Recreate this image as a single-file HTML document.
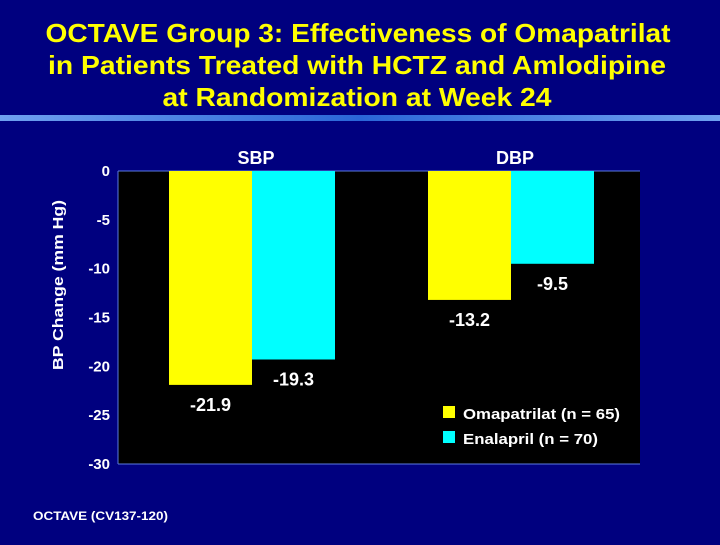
<!DOCTYPE html>
<html><head><meta charset="utf-8"><style>
body{margin:0;width:720px;height:540px;background:#00007f;overflow:hidden;font-family:"Liberation Sans",Arial,sans-serif}
</style></head><body>
<svg width="720" height="540" xmlns="http://www.w3.org/2000/svg">
<defs><linearGradient id="g" x1="0" x2="1"><stop offset="0" stop-color="#6fa0f0"/><stop offset="0.5" stop-color="#2a66d8"/><stop offset="1" stop-color="#6fa0f0"/></linearGradient></defs>
<rect width="720" height="540" fill="#00007f"/>
<g fill="#ffff00" font-weight="bold" font-size="26" text-anchor="middle">
<text x="358" y="42" textLength="625" lengthAdjust="spacingAndGlyphs">OCTAVE Group 3: Effectiveness of Omapatrilat</text>
<text x="357" y="74" textLength="618" lengthAdjust="spacingAndGlyphs">in Patients Treated with HCTZ and Amlodipine</text>
<text x="357" y="106" textLength="389" lengthAdjust="spacingAndGlyphs">at Randomization at Week 24</text>
</g>
<rect x="0" y="115" width="720" height="6" fill="url(#g)"/>
<rect x="118" y="171" width="522" height="293" fill="#000"/>
<line x1="118" y1="171" x2="640" y2="171" stroke="#5a7ae0" stroke-width="1"/>
<line x1="118" y1="464" x2="640" y2="464" stroke="#5a7ae0" stroke-width="1"/>
<line x1="118" y1="171" x2="118" y2="464" stroke="#5a7ae0" stroke-width="1"/>
<text transform="translate(63,285) rotate(-90)" text-anchor="middle" fill="#fff" font-weight="bold" font-size="15" textLength="170" lengthAdjust="spacingAndGlyphs">BP Change (mm Hg)</text>
<g id="ticks" fill="#fff" font-weight="bold" font-size="15" text-anchor="end"></g>
<g id="bars"></g>
<g fill="#fff" font-weight="bold" font-size="15">
<rect x="443" y="406" width="12" height="12" fill="#ffff00"/>
<text x="463" y="419" textLength="157" lengthAdjust="spacingAndGlyphs">Omapatrilat (n = 65)</text>
<rect x="443" y="431" width="12" height="12" fill="#00ffff"/>
<text x="463" y="444" textLength="135" lengthAdjust="spacingAndGlyphs">Enalapril (n = 70)</text>
</g>
<text x="33" y="520" fill="#fff" font-weight="bold" font-size="12" textLength="135" lengthAdjust="spacingAndGlyphs">OCTAVE (CV137-120)</text>
</svg>
<script>
const categories=["SBP","DBP"];
const omapatrilat=[-21.9,-13.2];
const enalapril=[-19.3,-9.5];
const ticks=[0,-5,-10,-15,-20,-25,-30];
const NS="http://www.w3.org/2000/svg";
const y=v=>171+(-v)/30*293;
const cx=i=>252+i*259;
const bw=83;
function mk(t,a,p){const e=document.createElementNS(NS,t);for(const k in a)e.setAttribute(k,a[k]);p.appendChild(e);return e;}
const tg=document.getElementById('ticks');
ticks.forEach(t=>{const e=mk('text',{x:110,y:y(t)+5},tg);e.textContent=t;

});
const bg=document.getElementById('bars');
categories.forEach((c,i)=>{
 const h=mk('text',{x:cx(i)+4,y:164,fill:'#fff','font-weight':'bold','font-size':'18','text-anchor':'middle'},bg);h.textContent=c;
 
 
 const a=mk('rect',{x:cx(i)-bw,y:171,width:bw,height:y(omapatrilat[i])-171,fill:'#ffff00'},bg);
 
 
 const b=mk('rect',{x:cx(i),y:171,width:bw,height:y(enalapril[i])-171,fill:'#00ffff'},bg);
 
 
 const la=mk('text',{x:cx(i)-bw/2,y:y(omapatrilat[i])+26,fill:'#fff','font-weight':'bold','font-size':'18','text-anchor':'middle'},bg);la.textContent=omapatrilat[i].toFixed(1);
 
 
 const lb=mk('text',{x:cx(i)+bw/2,y:y(enalapril[i])+26,fill:'#fff','font-weight':'bold','font-size':'18','text-anchor':'middle'},bg);lb.textContent=enalapril[i].toFixed(1);
 
 
});
</script>
</body></html>
